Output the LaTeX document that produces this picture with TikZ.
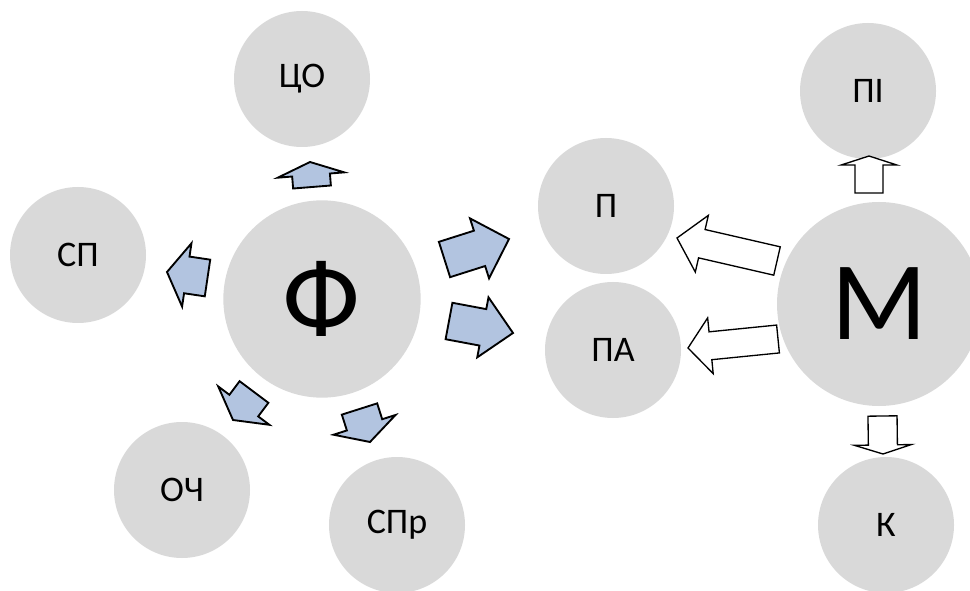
\documentclass[tikz,border=0pt]{standalone}
\usepackage{fontspec}
\setmainfont{Carlito}
\usepackage{xcolor}
\usetikzlibrary{calc}

\definecolor{bubblegray}{RGB}{217,217,217}
\definecolor{arrowblue}{RGB}{178,196,224}

% block arrow: [style]{tail}{tip}{half shaft}{half head}{head length}
\newcommand{\blockarrow}[6][]{%
    \coordinate (hb) at ($(#3)!#6!(#2)$);
    \draw[#1] ($(#2)!#4!90:(#3)$) -- ($(hb)!#4!90:(#3)$) -- ($(hb)!#5!90:(#3)$) -- (#3)
        -- ($(hb)!#5!-90:(#3)$) -- ($(hb)!#4!-90:(#3)$) -- ($(#2)!#4!-90:(#3)$) -- cycle;
}

\begin{document}
\begin{tikzpicture}[
    x=0.75pt, y=-0.75pt,
    bubble/.style={circle, fill=bubblegray, minimum size=102pt, inner sep=0pt, font=\fontsize{27}{30}\selectfont},
    bigbubble/.style={bubble, minimum size=148pt, font=\fontsize{84}{90}\selectfont},
    bluearrow/.style={fill=arrowblue, draw=black, line width=1.4pt, line join=miter},
    whitearrow/.style={fill=white, draw=black, line width=1pt, line join=miter}
]

\useasboundingbox (0, 0) rectangle (970, 591);

%==============================================================================
% Left group
%==============================================================================
\node[bigbubble] (F) at (322, 299) {Ф};
\node[bubble] (CO) at (302, 79) {ЦО};
\node[bubble] (SP) at (78, 255) {СП};
\node[bubble] (OCh) at (182, 490) {ОЧ};
\node[bubble] (SPr) at (397, 525) {СПр};

%==============================================================================
% Middle
%==============================================================================
\node[bubble] (P) at (606, 206) {П};
\node[bubble] (PA) at (613, 350) {ПА};

%==============================================================================
% Right group
%==============================================================================
\node[bigbubble, minimum size=153pt] (M) at (879, 304) {М};
\node[bubble] (PI) at (868, 91) {ПІ};
\node[bubble] (K) at (886, 525) {К};

% Arrow ends
\coordinate (F-CO-t) at (312, 187);     \coordinate (F-CO-h) at (310, 162);
\coordinate (F-SP-t) at (207.5, 278);   \coordinate (F-SP-h) at (167, 272);
\coordinate (F-OCh-t) at (254, 392);    \coordinate (F-OCh-h) at (233, 420);
\coordinate (F-SPr-t) at (359.5, 409);  \coordinate (F-SPr-h) at (370, 442);
\coordinate (F-P-t) at (444.5, 259.5);  \coordinate (F-P-h) at (509, 239);
\coordinate (F-PA-t) at (449, 321);     \coordinate (F-PA-h) at (513, 333);
\coordinate (M-P-t) at (777, 261);      \coordinate (M-P-h) at (677, 238);
\coordinate (M-PA-t) at (778, 339);     \coordinate (M-PA-h) at (688, 348);
\coordinate (M-PI-t) at (869, 193);     \coordinate (M-PI-h) at (869, 156);
\coordinate (M-K-t) at (882.5, 416);    \coordinate (M-K-h) at (883, 454);

% Blue arrows out of F
\blockarrow[bluearrow]{F-CO-t}{F-CO-h}{14.2pt}{25pt}{9.8pt}
\blockarrow[bluearrow]{F-SP-t}{F-SP-h}{13.9pt}{24pt}{15pt}
\blockarrow[bluearrow]{F-OCh-t}{F-OCh-h}{13.5pt}{24pt}{13.5pt}
\blockarrow[bluearrow]{F-SPr-t}{F-SPr-h}{13.9pt}{24.4pt}{13.5pt}
\blockarrow[bluearrow]{F-P-t}{F-P-h}{13.9pt}{23.6pt}{23.2pt}
\blockarrow[bluearrow]{F-PA-t}{F-PA-h}{13.9pt}{22.9pt}{23pt}

% White arrows out of M
\blockarrow[whitearrow]{M-P-t}{M-P-h}{10.9pt}{21.8pt}{19.1pt}
\blockarrow[whitearrow]{M-PA-t}{M-PA-h}{10.5pt}{21pt}{16.9pt}
\blockarrow[whitearrow]{M-PI-t}{M-PI-h}{10.5pt}{21pt}{6.8pt}
\blockarrow[whitearrow]{M-K-t}{M-K-h}{10.9pt}{21.4pt}{6.8pt}

\end{tikzpicture}
\end{document}
